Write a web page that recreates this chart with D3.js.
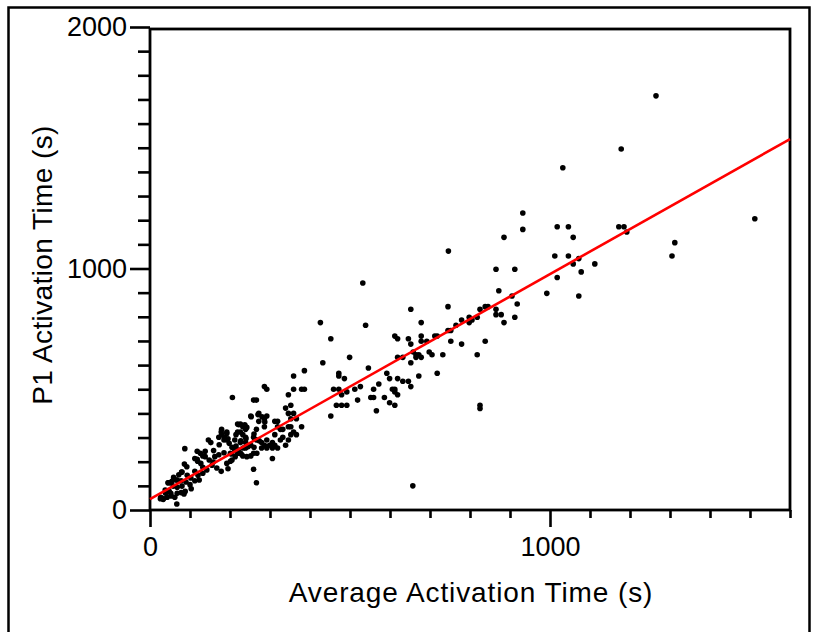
<!DOCTYPE html>
<html>
<head>
<meta charset="utf-8">
<script src="https://cdn.jsdelivr.net/npm/d3@7"></script>
<style>
html,body{margin:0;padding:0;background:#fff;}
svg{display:block;}
text{font-family:"Liberation Sans",Arial,sans-serif;fill:#000;}
</style>
</head>
<body>
<svg id="chart" width="818" height="632"></svg>
<script>
// ---- data (avg activation time, P1 activation time), seconds ----
const avgTime = [
1265,1178,1032,1512,1046,1018,1172,1185,1192,1058,1312,1305,1046,1012,1072,1058,1112,1078,1018,1072,992,
932,932,885,865,912,872,905,918,912,825,838,845,865,865,878,885,818,798,798,779,805,779,838,818,
746,652,745,765,539,678,745,752,752,825,825,612,619,646,678,678,692,712,718,652,658,698,705,732,665,672,678,665,652,619,632,718,672,499,546,592,599,619,632,646,652,572,559,606,612,612,619,586,552,559,599,612,566,519,512,526,472,472,486,459,472,479,492,466,479,492,452,452,532,657,
432,359,386,286,292,206,259,266,346,359,379,386,352,339,346,359,352,366,252,272,286,292,319,379,346,352,326,332,286,366,312,346,339,319,306,292,279,266,259,266,252,259,252,306,259,266,272,219,226,232,239,239,226,219,232,239,212,226,239,212,219,226,232,239,201,201,292,306,279,286,299,312,326,332,352,359,426,312,319,
270,280,253,287,222,237,242,178,192,172,185,195,215,227,240,260,263,273,198,205,215,222,233,245,260,267,173,185,162,172,87,118,138,138,118,127,148,158,155,167,192,195,205,178,132,142,132,112,120,80,93,102,68,78,90,112,123,45,55,58,68,80,100,103,38,48,68,78,88,27,33,43,53,62,67,85,228,242,213,203,179,192,179,186,192,146,152,159,126,132,112,119,86,92,79,72,59,66,46,52,26,33,39,52
];
const p1Time = [
1715,1495,1417,1206,1173,1173,1173,1173,1151,1129,1107,1052,1052,1052,1041,1019,1019,986,963,886,897,
1230,1162,1129,997,997,908,886,853,798,831,842,842,831,809,809,776,798,798,776,787,787,687,699,643,
1072,831,842,765,765,776,743,743,699,434,420,720,709,709,720,699,699,720,720,687,654,654,643,643,643,643,632,632,610,632,632,566,555,632,588,566,544,544,533,533,511,522,500,500,500,489,477,466,466,466,444,434,411,455,500,511,566,555,544,500,500,477,489,434,434,434,389,709,940,100,
610,555,577,511,500,466,455,455,477,500,500,500,434,422,400,400,378,378,389,400,378,389,367,345,345,345,334,334,345,312,312,290,268,257,257,257,257,334,301,290,268,235,224,213,169,113,367,356,356,345,345,334,323,323,312,301,290,279,279,246,235,235,224,257,235,202,290,279,279,268,268,268,290,301,312,323,776,367,345,
395,386,386,364,353,353,342,323,317,301,290,295,312,287,295,315,293,287,276,260,265,248,257,262,260,235,270,237,221,229,254,243,243,221,210,193,207,199,185,174,193,171,207,160,177,166,152,160,144,157,144,133,124,121,116,121,124,113,119,99,94,99,105,88,83,77,69,72,77,53,44,53,58,53,25,66,232,221,221,232,334,323,312,301,290,290,279,246,235,224,213,202,190,179,157,146,135,124,113,113,47,47,69,69
];
// fitted regression line end points
const fitX = [0, 1600];
const fitY = [45, 1536];
// axis ticks
const xMajorTicks = [0, 1000];
const xMinorTicks = [100,200,300,400,500,600,700,800,900,1100,1200,1300,1400,1500,1600];
const yMajorTicks = [0, 1000, 2000];
const yMinorTicks = [100,200,300,400,500,600,700,800,900,1100,1200,1300,1400,1500,1600,1700,1800,1900];
const xTitle = "Average Activation Time (s)";
const yTitle = "P1 Activation Time (s)";

const svg = d3.select("#chart");
const mLeft = 150, mRight = 790, mTop = 27, mBottom = 510;
const x = d3.scaleLinear().domain([0, 1600]).range([mLeft, mRight]);
const y = d3.scaleLinear().domain([0, 2000]).range([mBottom, mTop]);

// outer border
svg.append("rect").attr("x", 8.5).attr("y", 7.5).attr("width", 801).attr("height", 660)
  .attr("fill", "none").attr("stroke", "#000").attr("stroke-width", 2.5);

// plot frame
svg.append("rect").attr("x", mLeft).attr("y", mTop + 2).attr("width", mRight - mLeft).attr("height", mBottom - mTop - 2)
  .attr("fill", "none").attr("stroke", "#000").attr("stroke-width", 2.8);

// points
const pts = avgTime.map((v, i) => [v, p1Time[i]]);
svg.append("g").selectAll("circle").data(pts).join("circle")
  .attr("cx", d => x(d[0])).attr("cy", d => y(d[1])).attr("r", 2.8).attr("fill", "#000");

// fit line
svg.append("line")
  .attr("x1", x(fitX[0])).attr("y1", y(fitY[0]))
  .attr("x2", x(fitX[1])).attr("y2", y(fitY[1]))
  .attr("stroke", "#ff0000").attr("stroke-width", 2.6);

function styleAxis(g) {
  g.select(".domain").remove();
  g.selectAll(".tick line").attr("stroke", "#000").attr("stroke-width", 2.6);
  g.selectAll("text").style("font-size", "27px").attr("fill", "#000");
}

// x axis
svg.append("g").attr("transform", `translate(0,${mBottom})`)
  .call(d3.axisBottom(x).tickValues(xMinorTicks).tickSize(8).tickFormat(""))
  .call(styleAxis);
svg.append("g").attr("transform", `translate(0,${mBottom})`)
  .call(d3.axisBottom(x).tickValues(xMajorTicks).tickSize(17).tickPadding(10).tickFormat(d3.format("d")))
  .call(styleAxis);

// y axis
svg.append("g").attr("transform", `translate(${mLeft},0)`)
  .call(d3.axisLeft(y).tickValues(yMinorTicks).tickSize(12).tickFormat(""))
  .call(styleAxis);
svg.append("g").attr("transform", `translate(${mLeft},0)`)
  .call(d3.axisLeft(y).tickValues(yMajorTicks).tickSize(20).tickPadding(3).tickFormat(d3.format("d")))
  .call(styleAxis);

// axis titles
svg.append("text").attr("x", (mLeft + mRight) / 2 + 1).attr("y", 602)
  .attr("text-anchor", "middle").style("font-size", "28px").style("letter-spacing", "0.9px").text(xTitle);
svg.append("text").attr("transform", "translate(52,265) rotate(-90)")
  .attr("text-anchor", "middle").style("font-size", "28px").style("letter-spacing", "0.4px").text(yTitle);
</script>
</body>
</html>
